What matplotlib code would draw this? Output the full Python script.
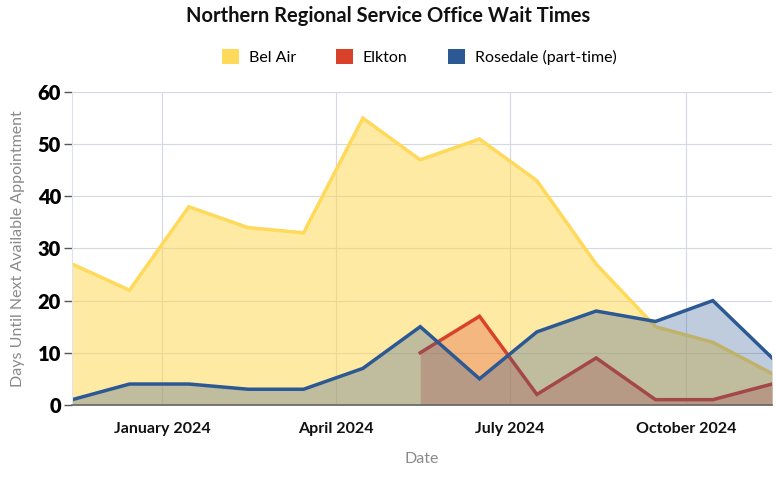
import numpy as np
import pandas as pd
import matplotlib
matplotlib.use("Agg")
import matplotlib.pyplot as plt
from matplotlib.patches import Patch

# monthly readings, mid-month
dates = pd.to_datetime(["2023-11-15", "2023-12-15", "2024-01-15", "2024-02-15", "2024-03-15",
                        "2024-04-15", "2024-05-15", "2024-06-15", "2024-07-15", "2024-08-15",
                        "2024-09-15", "2024-10-15", "2024-11-15"])
bel_air = [27, 22, 38, 34, 33, 55, 47, 51, 43, 27, 15, 12, 6]
elkton_dates = dates[6:]
elkton = [10, 17, 2, 9, 1, 1, 4]
rosedale = [1, 4, 4, 3, 3, 7, 15, 5, 14, 18, 16, 20, 9]

series_names = ["Bel Air", "Elkton", "Rosedale (part-time)"]
colors = ["#FFD95A", "#D9412B", "#2C5893"]
fill_alpha = [0.55, 0.3, 0.3]
ticks = pd.to_datetime(["2024-01-01", "2024-04-01", "2024-07-01", "2024-10-01"])
tick_labels = ["January 2024", "April 2024", "July 2024", "October 2024"]

plt.rcParams["font.family"] = ["Lato", "DejaVu Sans"]

fig = plt.figure(figsize=(7.76, 4.82), dpi=100)
ax = fig.add_axes([0.093, 0.16, 0.902, 0.649])

for x, y, c, a in [(dates, bel_air, colors[0], fill_alpha[0]),
                   (elkton_dates, elkton, colors[1], fill_alpha[1]),
                   (dates, rosedale, colors[2], fill_alpha[2])]:
    ax.fill_between(x, 0, y, color=c, alpha=a, linewidth=0, zorder=2)
    ax.plot(x, y, color=c, linewidth=2.5, zorder=2, solid_joinstyle="miter")

ax.set_xlim(dates[0], dates[-1])
ax.set_ylim(0, 60)
ax.set_yticks(np.arange(0, 61, 10))
ax.set_xticks(ticks)
ax.set_xticklabels(tick_labels, fontsize=11.5, fontweight="bold", color="#111111")
ax.tick_params(axis="y", labelsize=14.5, length=6, color="#555555", width=1, pad=2)
for lbl in ax.get_yticklabels():
    lbl.set_fontweight("heavy")
ax.tick_params(axis="x", length=0, pad=12)

ax.grid(True, color="#D3D8E3", linewidth=0.8, zorder=0)
ax.set_axisbelow(True)
for s in ["top", "right"]:
    ax.spines[s].set_visible(False)
ax.spines["left"].set_color("#DDE3EE")
ax.spines["bottom"].set_color("#666666")
ax.spines["bottom"].set_linewidth(1.2)

ax.set_ylabel("Days Until Next Available Appointment", color="#8A8A8A", fontsize=11.5, labelpad=9)
ax.set_xlabel("Date", color="#8A8A8A", fontsize=11.5, labelpad=12)

fig.text(0.5, 0.966, "Northern Regional Service Office Wait Times", ha="center", va="center",
         fontsize=14.5, fontweight="bold", color="#111111")

handles = [Patch(facecolor=c, edgecolor="none") for c in colors]
fig.legend(handles, series_names, loc="center", bbox_to_anchor=(0.54, 0.882), ncol=3,
           frameon=False, fontsize=11.5, handlelength=1.1, handleheight=1.1,
           columnspacing=2.5, handletextpad=0.6)

fig.savefig("out.png", dpi=100)
